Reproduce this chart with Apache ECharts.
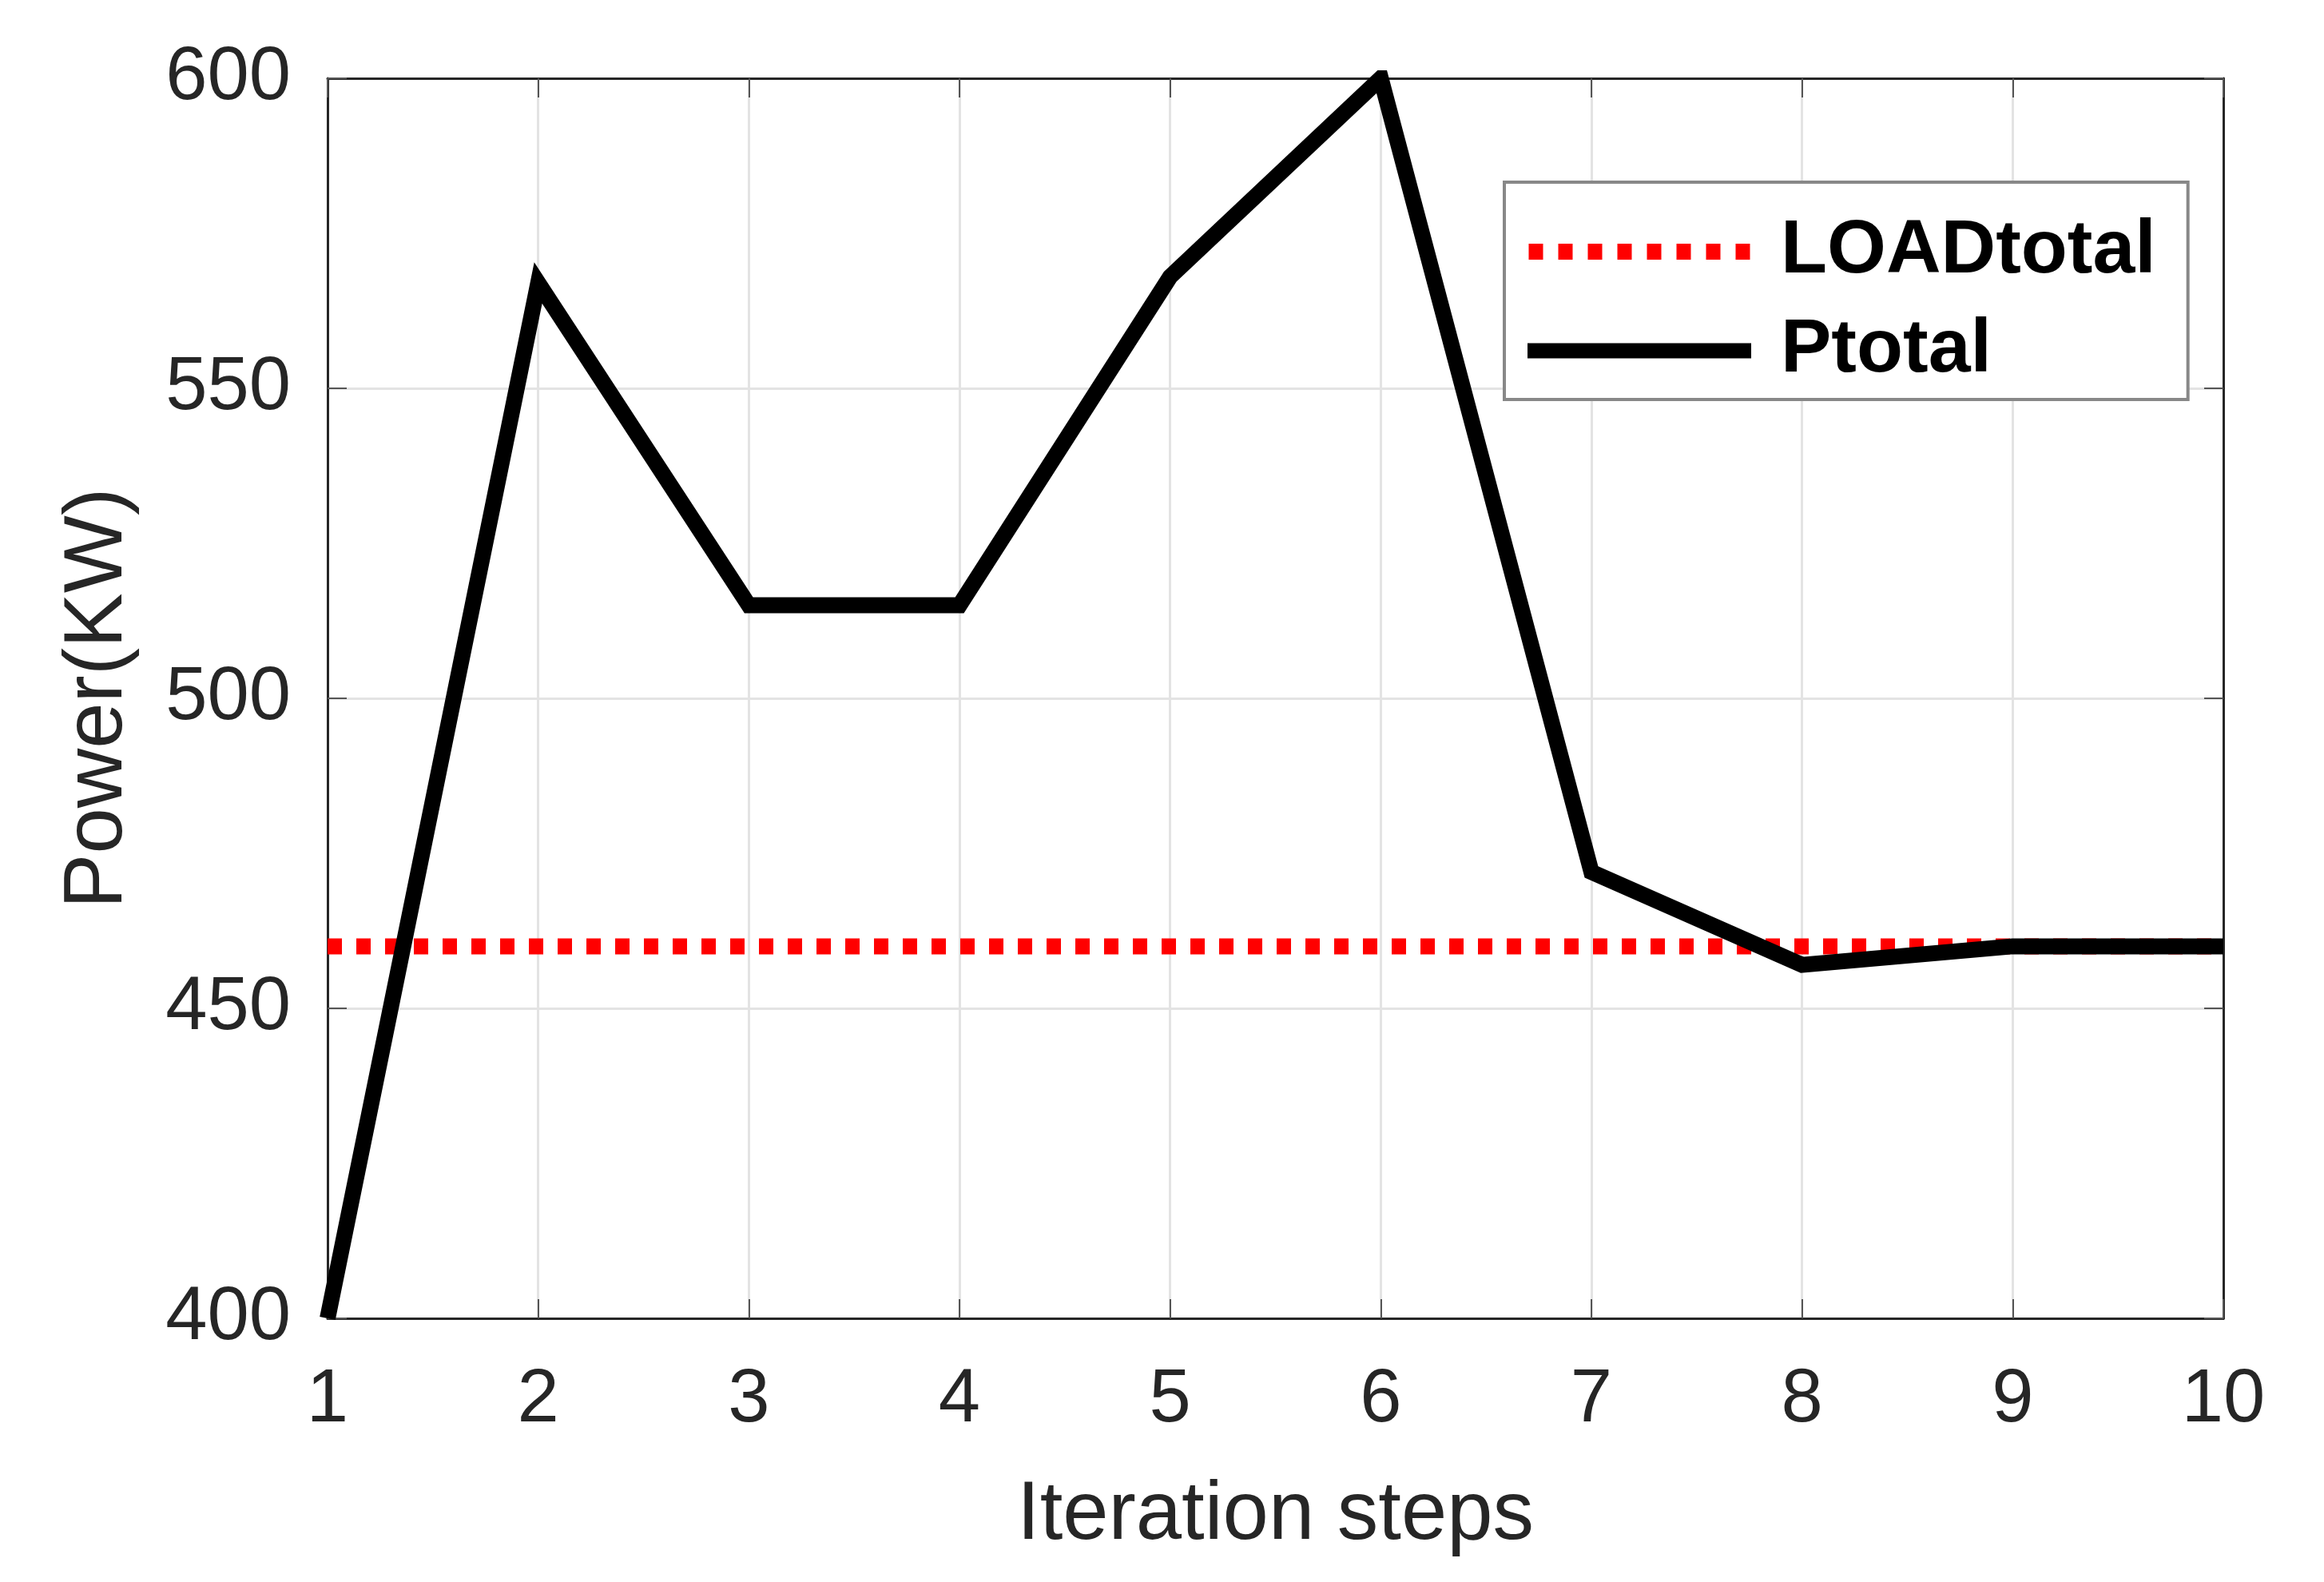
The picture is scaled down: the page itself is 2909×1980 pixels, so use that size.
<!DOCTYPE html>
<html>
<head>
<meta charset="utf-8">
<script src="https://cdn.jsdelivr.net/npm/echarts@6/dist/echarts.min.js"></script>
<style>
html,body{margin:0;padding:0;background:#fff;}
#chart{width:2909px;height:1980px;}
</style>
</head>
<body>
<div id="chart"></div>
<script>
var steps = [1, 2, 3, 4, 5, 6, 7, 8, 9, 10];
var loadTotal = [460, 460, 460, 460, 460, 460, 460, 460, 460, 460];
var pTotal = [400, 567, 515, 515, 568, 600, 472, 457, 460, 460];
var xTicks = [1, 10, 1];
var yTicks = [400, 600, 50];

function pairs(ys) { return steps.map(function (x, i) { return [x, ys[i]]; }); }

var FONT = 'Arial, "Liberation Sans", Helvetica, sans-serif';
var axisCol = '#262626';

function xAx(pos, showLab, showSplit) {
  return {
    type: 'value', position: pos, min: xTicks[0], max: xTicks[1], interval: xTicks[2],
    axisLine: { show: true, onZero: false, lineStyle: { color: axisCol, width: 3 } },
    axisTick: { show: true, inside: true, length: 24, lineStyle: { color: '#555', width: 2 } },
    axisLabel: { show: showLab, fontSize: 94, color: axisCol, fontFamily: FONT, margin: 56 },
    splitLine: { show: showSplit, lineStyle: { color: '#e3e3e3', width: 3 } },
    name: showLab ? 'Iteration steps' : '',
    nameLocation: 'middle', nameGap: 196,
    nameTextStyle: { fontSize: 103, color: axisCol, fontFamily: FONT }
  };
}
function yAx(pos, showLab, showSplit) {
  return {
    type: 'value', position: pos, min: yTicks[0], max: yTicks[1], interval: yTicks[2],
    axisLine: { show: true, onZero: false, lineStyle: { color: axisCol, width: 3 } },
    axisTick: { show: true, inside: true, length: 24, lineStyle: { color: '#555', width: 2 } },
    axisLabel: { show: showLab, fontSize: 94, color: axisCol, fontFamily: FONT, margin: 46 },
    splitLine: { show: showSplit, lineStyle: { color: '#e3e3e3', width: 3 } },
    name: showLab ? 'Power(KW)' : '',
    nameLocation: 'middle', nameGap: 235,
    nameTextStyle: { fontSize: 103, color: axisCol, fontFamily: FONT }
  };
}

// legend icon shapes (stretched to itemWidth x itemHeight)
var dottedIcon = 'path://';
for (var k = 0; k < 8; k++) {
  var x0 = k * 37;
  dottedIcon += 'M' + x0 + ' 0L' + (x0 + 18) + ' 0L' + (x0 + 18) + ' 20L' + x0 + ' 20Z';
}
var solidIcon = 'path://M0 0L295 0L295 20L0 20Z';

var chart = echarts.init(document.getElementById('chart'), null, { renderer: 'canvas' });
chart.setOption({
  backgroundColor: '#fff',
  animation: false,
  grid: { left: 410, right: 126, top: 98, bottom: 330, containLabel: false },
  xAxis: [xAx('bottom', true, true), xAx('top', false, false)],
  yAxis: [yAx('left', true, true), yAx('right', false, false)],
  legend: {
    orient: 'vertical', left: 1883, top: 228,
    padding: [37, 40, 11, 29],
    backgroundColor: '#fff',
    borderColor: '#888', borderWidth: 4, borderRadius: 0,
    itemWidth: 280, itemHeight: 20, itemGap: 24,
    textStyle: { fontSize: 95, fontWeight: 'bold', color: '#000', fontFamily: FONT, lineHeight: 100, padding: [0, 0, 0, 32] },
    data: [
      { name: 'LOADtotal', icon: dottedIcon, itemStyle: { color: '#ff0000' } },
      { name: 'Ptotal', icon: solidIcon, itemStyle: { color: '#000' } }
    ]
  },
  series: [
    {
      name: 'LOADtotal', type: 'line', xAxisIndex: 0, yAxisIndex: 0,
      data: pairs(loadTotal), symbol: 'none',
      lineStyle: { color: '#ff0000', width: 20, type: [18, 18], cap: 'butt' },
      itemStyle: { color: '#ff0000' }
    },
    {
      name: 'Ptotal', type: 'line', xAxisIndex: 0, yAxisIndex: 0,
      data: pairs(pTotal), symbol: 'none',
      lineStyle: { color: '#000', width: 20, join: 'miter', cap: 'butt' },
      itemStyle: { color: '#000' }
    }
  ]
});
</script>
</body>
</html>
